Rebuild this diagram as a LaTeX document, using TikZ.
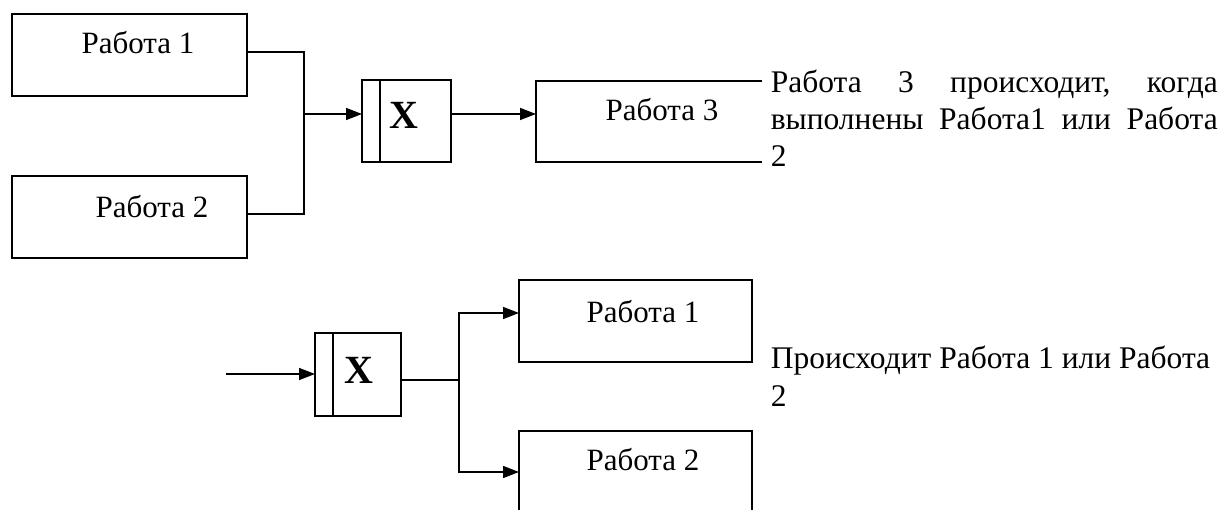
\documentclass[tikz,border=0pt]{standalone}
\usepackage{fontspec}
\setmainfont{Liberation Serif}
\usetikzlibrary{arrows.meta}
\begin{document}
\begin{tikzpicture}[x=1pt,y=-1pt,line width=1.5pt,
  wbox/.style={rectangle,draw,inner sep=0pt,outer sep=0pt,anchor=north west},
  lbl/.style={inner sep=0pt,font=\fontsize{31}{31}\selectfont},
  xlbl/.style={inner sep=0pt,font=\fontsize{40}{40}\selectfont\bfseries},
  note/.style={inner sep=0pt,anchor=base west,font=\fontsize{31.5}{37}\selectfont},
  arr/.style={-{Triangle[length=16pt,width=12pt]}}]
\useasboundingbox (0,0) rectangle (1223,510);
\clip (0,0) rectangle (1223,510);
\fill[white] (0,0) rectangle (1223,510);
% top diagram
\node[wbox,minimum width=235pt,minimum height=82pt] (w1) at (12,14) {};
\node[wbox,minimum width=235pt,minimum height=82pt] (w2) at (12,176) {};
\node[wbox,minimum width=89pt,minimum height=82pt] (x1) at (362,80) {};
\node[wbox,draw=none,minimum width=226pt,minimum height=81pt] (w3) at (536,81) {};
\draw ([xshift=18pt]x1.north west) -- ([xshift=18pt]x1.south west);
\draw (w3.north east) -- (w3.north west) -- (w3.south west) -- (w3.south east);
\node[lbl] (l1) at (138,43) {Работа 1};
\node[lbl] (l2) at (152,207) {Работа 2};
\node[lbl] (l3) at (662,110) {Работа 3};
\node[xlbl] (xl1) at (404,115) {X};
\coordinate (j1) at (304,114);
\draw ([yshift=3pt]w1.east) -| (j1);
\draw ([yshift=3pt]w2.east) -| (j1);
\draw[arr] (j1) -- (j1 -| x1.west);
\draw[arr] (j1 -| x1.east) -- (j1 -| w3.west);
\node[note] (t1) at (770,93) {\vtop{\baselineskip=37pt
  \hbox to 447pt{Работа\hfill 3\hfill происходит,\hfill когда}
  \hbox to 447pt{выполнены\hfill Работа1\hfill или\hfill Работа}
  \hbox{2}}};
% bottom diagram
\node[wbox,minimum width=86pt,minimum height=83pt] (x2) at (315,333) {};
\draw ([xshift=18pt]x2.north west) -- ([xshift=18pt]x2.south west);
\node[wbox,minimum width=233pt,minimum height=82pt] (b1) at (519,280) {};
\node[wbox,minimum width=233pt,minimum height=82pt] (b2) at (519,431) {};
\node[lbl] (lb1) at (643,312) {Работа 1};
\node[lbl] (lb2) at (643,460) {Работа 2};
\node[xlbl] (xl2) at (359,370) {X};
\coordinate (in) at (226,374);
\draw[arr] (in) -- (in -| x2.west);
\coordinate (j2) at (459,380);
\draw (j2 -| x2.east) -- (j2);
\draw[arr] (j2) |- ([yshift=8pt]b1.west);
\draw[arr] (j2) |- (b2.west);
\node[note] (t2) at (770,369) {\vtop{\baselineskip=37pt
  \hbox{Происходит Работа 1 или Работа}
  \hbox{2}}};
\end{tikzpicture}
\end{document}
